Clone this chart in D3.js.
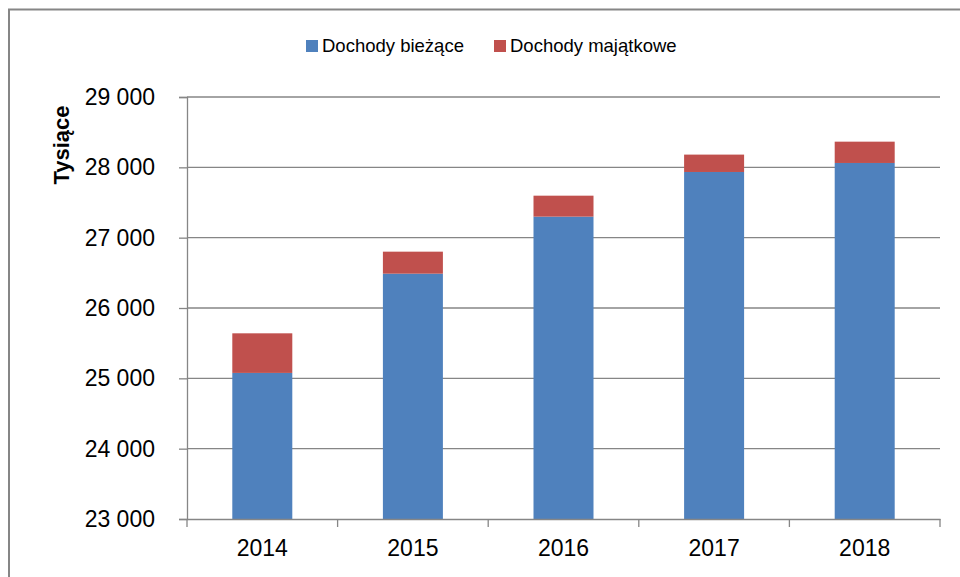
<!DOCTYPE html>
<html>
<head>
<meta charset="utf-8">
<script src="https://cdn.jsdelivr.net/npm/d3@7"></script>
<style>
  body { margin: 0; background: #fff; }
  text { font-family: "Liberation Sans", Arial, sans-serif; fill: #000; }
</style>
</head>
<body>
<div id="chart"></div>
<script>
// Data (thousands)
var years    = ["2014", "2015", "2016", "2017", "2018"];
var biezace  = [25077, 26488, 27299, 27934, 28062];
var majatkowe = [563, 313, 298, 247, 303];
var series   = ["Dochody bieżące", "Dochody majątkowe"];
var yTicks   = [23000, 24000, 25000, 26000, 27000, 28000, 29000];

var width  = 960,
    height = 577,
    plot   = {"left": 187, "right": 940, "top": 97, "bottom": 519},
    colors = ["#4f81bd", "#c0504d"],
    grid   = "#868686";

var pl = d3.formatLocale({decimal: ",", thousands: " ", grouping: [3], currency: ["", " zł"]});
var fmt = pl.format(",");

var rows = years.map(function(y, i){
  return {year: y, "Dochody bieżące": biezace[i], "Dochody majątkowe": majatkowe[i]};
});

var x = d3.scaleBand().domain(years).range([plot.left, plot.right]);
var y = d3.scaleLinear().domain([23000, 29000]).range([plot.bottom, plot.top]);
var barW = 60;

var svg = d3.select("#chart").append("svg")
  .attr("width", width)
  .attr("height", height);

// outer chart border (runs off the right and bottom of the picture)
svg.append("rect")
  .attr("x", 9).attr("y", 9.5)
  .attr("width", 1000).attr("height", 1000)
  .attr("fill", "none")
  .attr("stroke", grid)
  .attr("stroke-width", 2);

// gridlines
svg.append("g")
  .selectAll("line")
  .data(yTicks.slice(1))
  .enter()
  .append("line")
    .attr("x1", plot.left).attr("x2", plot.right)
    .attr("y1", function(d){ return y(d); })
    .attr("y2", function(d){ return y(d); })
    .attr("stroke", grid)
    .attr("stroke-width", 1.3);

// stacked bars, baseline is the axis minimum
var stack = d3.stack().keys(series)(rows);
svg.append("g")
  .selectAll("g")
  .data(stack)
  .enter()
  .append("g")
    .attr("fill", function(d, i){ return colors[i]; })
  .selectAll("rect")
  .data(function(d){ return d; })
  .enter()
  .append("rect")
    .attr("x", function(d){ return x(d.data.year) + (x.bandwidth() - barW) / 2; })
    .attr("width", barW)
    .attr("y", function(d){ return y(d[1]); })
    .attr("height", function(d){ return y(Math.max(d[0], 23000)) - y(d[1]); });

// y axis
var yAxis = svg.append("g")
  .attr("transform", "translate(" + plot.left + ",0)")
  .call(d3.axisLeft(y).tickValues(yTicks).tickFormat(fmt).tickSize(8).tickPadding(24));
yAxis.selectAll("text").attr("font-size", 23).attr("font-family", null);
yAxis.selectAll("line, path").attr("stroke", grid).attr("stroke-width", 1.3);

// x axis: labels centred, ticks on the category boundaries
var xAxis = svg.append("g")
  .attr("transform", "translate(0," + plot.bottom + ")")
  .call(d3.axisBottom(x).tickSize(0).tickPadding(21));
xAxis.select(".domain").attr("stroke", grid).attr("stroke-width", 1.3);
xAxis.selectAll("text").attr("font-size", 23).attr("font-family", null);

svg.append("g")
  .selectAll("line")
  .data(years.map(function(d){ return x(d); }).concat([plot.right]))
  .enter()
  .append("line")
    .attr("x1", function(d){ return d; }).attr("x2", function(d){ return d; })
    .attr("y1", plot.bottom).attr("y2", plot.bottom + 8)
    .attr("stroke", grid)
    .attr("stroke-width", 1.3);

// axis title
svg.append("text")
  .attr("transform", "translate(69,145) rotate(-90)")
  .attr("text-anchor", "middle")
  .attr("font-size", 22)
  .attr("font-weight", "bold")
  .text("Tysiące");

// legend
var legendX = [306, 494];
var lg = svg.append("g").selectAll("g")
  .data(series)
  .enter()
  .append("g")
    .attr("transform", function(d, i){ return "translate(" + legendX[i] + ",40)"; });
lg.append("rect")
  .attr("width", 12).attr("height", 12)
  .attr("fill", function(d, i){ return colors[i]; });
lg.append("text")
  .attr("x", 16).attr("y", 12)
  .attr("font-size", 18.5)
  .text(function(d){ return d; });
</script>
</body>
</html>
